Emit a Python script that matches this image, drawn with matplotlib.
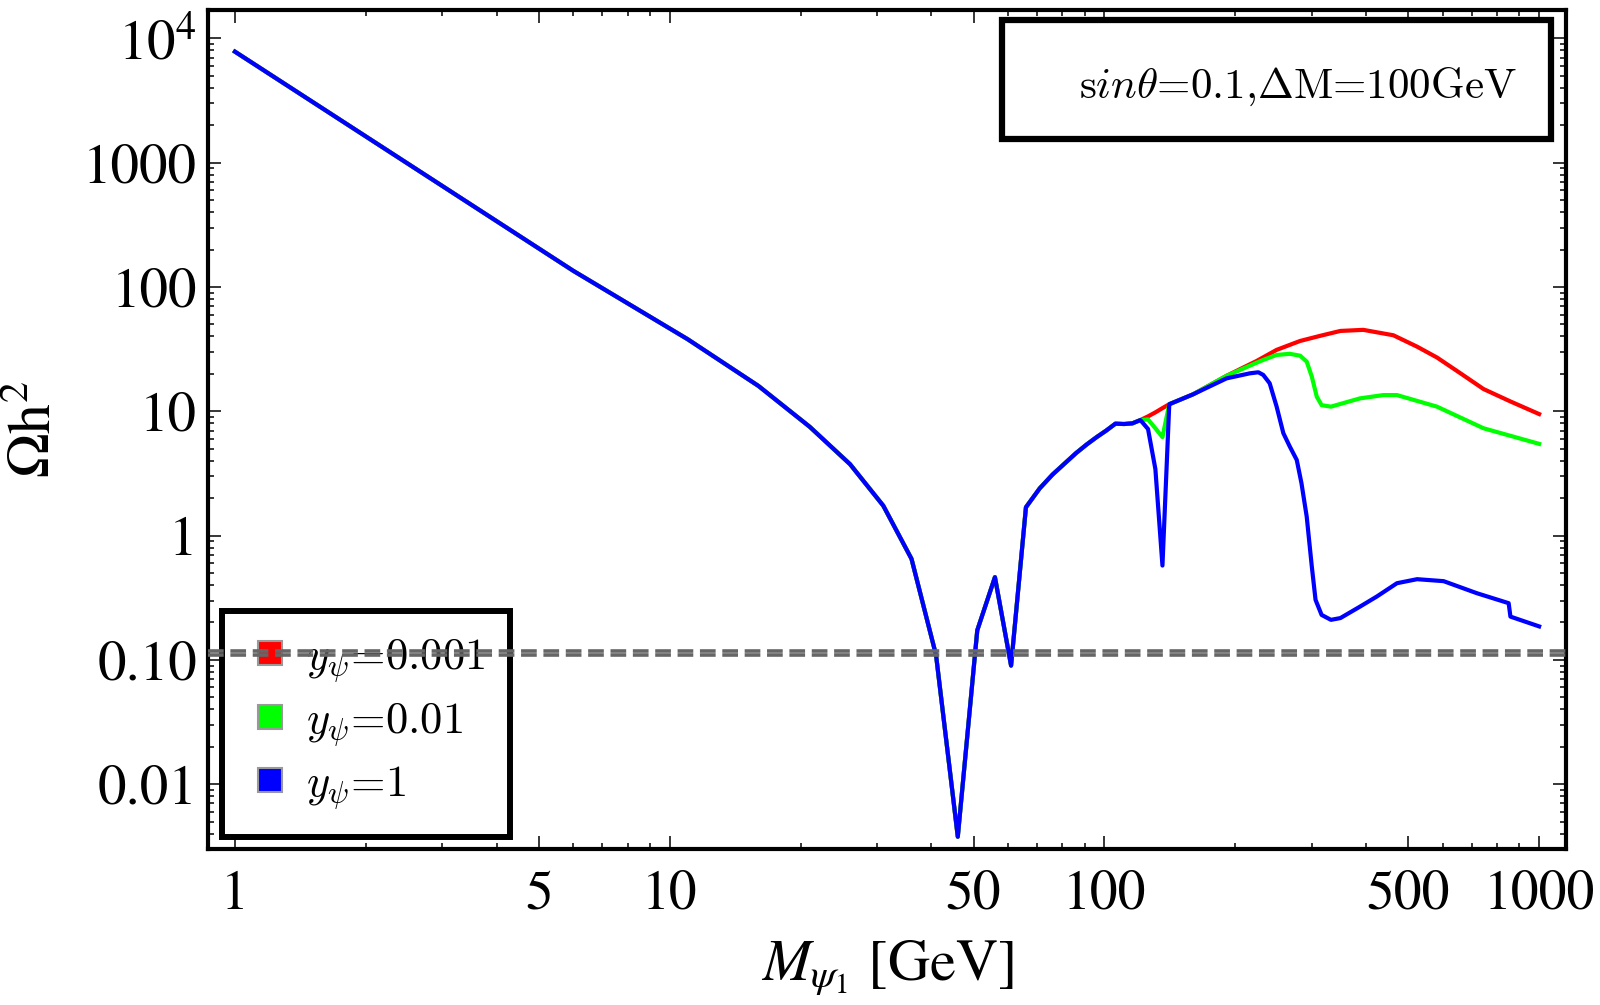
import matplotlib
matplotlib.use("Agg")
import matplotlib.pyplot as plt
import numpy as np
from matplotlib.lines import Line2D
from matplotlib.patches import Rectangle
from matplotlib.font_manager import FontProperties
from matplotlib.ticker import FixedLocator, FixedFormatter, LogLocator, NullFormatter

plt.rcParams['font.family'] = 'STIXGeneral'
plt.rcParams['mathtext.fontset'] = 'stix'
plt.rcParams['lines.scale_dashes'] = False

# shared part of all three curves (M in GeV, relic density)
m_low = [1, 6, 11, 16, 21, 26, 31, 36, 41, 46, 51, 56, 61, 66, 71, 76, 81, 86,
         91, 96, 101, 106, 111, 116, 121]
omega_low = [7820, 135, 38, 16, 7.5, 3.75, 1.74, 0.65, 0.109, 0.00378, 0.173,
             0.463, 0.090, 1.69, 2.4, 3.1, 3.8, 4.6, 5.4, 6.2, 7.0, 7.95, 7.9,
             8.0, 8.5]

# y_psi = 0.001
m_red = [126, 131, 136, 141, 160, 191, 224, 249, 282, 313, 349, 394, 462, 524,
         582, 658, 745, 859, 1000]
omega_red = [9.1, 9.8, 10.6, 11.4, 13.7, 19.3, 25.4, 31.2, 36.8, 40.4, 44.3,
             45.2, 40.9, 33.1, 27.1, 20.3, 15.1, 12.0, 9.5]

# y_psi = 0.01
m_green = [126, 131, 136, 141, 160, 191, 224, 232, 249, 267, 282, 292, 300,
           308, 316, 332, 387, 438, 471, 582, 745, 1000]
omega_green = [8.6, 7.3, 6.2, 11.4, 13.7, 19.3, 24.6, 25.9, 28.4, 29.0, 28.0,
               25.1, 19.0, 13.1, 11.2, 10.9, 12.7, 13.5, 13.5, 10.9, 7.3, 5.47]

# y_psi = 1
m_blue = [126, 131, 136, 141, 160, 191, 216, 226, 232, 240, 249, 258, 267, 277,
          284, 292, 300, 306, 316, 332, 349, 387, 423, 471, 524, 603, 719, 851,
          859, 1000]
omega_blue = [7.2, 3.43, 0.574, 11.4, 13.7, 18.4, 20.2, 20.6, 19.6, 16.8, 10.9,
              6.67, 5.2, 4.06, 2.64, 1.42, 0.563, 0.304, 0.230, 0.21, 0.217,
              0.268, 0.323, 0.414, 0.446, 0.43, 0.344, 0.286, 0.223, 0.186]

relic_band = [0.1093, 0.1183]

labels = [r'$y_\psi$=0.001', r'$y_\psi$=0.01', r'$y_\psi$=1']
colors = ['#ff0000', '#00ff00', '#0000ff']

xtick_vals = [1, 5, 10, 50, 100, 500, 1000]
xtick_labels = ['1', '5', '10', '50', '100', '500', '1000']
ytick_vals = [0.01, 0.1, 1, 10, 100, 1000, 1e4]
ytick_labels = ['0.01', '0.10', '1', '10', '100', '1000', r'$10^4$']

fig = plt.figure(figsize=(16, 10.05), dpi=100)
ax = fig.add_axes([0.13, 0.1552, 0.84875, 0.8348])

series = [(m_red, omega_red), (m_green, omega_green), (m_blue, omega_blue)]
for (m, om), c in zip(series, colors):
    ax.plot(m_low + m, omega_low + om, color=c, lw=3.0, solid_joinstyle='round')

for v in relic_band:
    ax.axhline(v, color='#666666', lw=2.6, dashes=(11.3, 4.8), zorder=3)

ax.set_xscale('log')
ax.set_yscale('log')
ax.set_xlim(0.867, 1153)
ax.set_ylim(0.00301, 16900)

ax.xaxis.set_major_locator(FixedLocator(xtick_vals))
ax.xaxis.set_major_formatter(FixedFormatter(xtick_labels))
xminor = [d * k for d in [1, 10, 100] for k in [2, 3, 4, 6, 7, 8, 9]]
ax.xaxis.set_minor_locator(FixedLocator(xminor))
ax.xaxis.set_minor_formatter(NullFormatter())
ax.yaxis.set_major_locator(FixedLocator(ytick_vals))
ax.yaxis.set_major_formatter(FixedFormatter(ytick_labels))
ax.yaxis.set_minor_locator(LogLocator(base=10, subs=np.arange(2, 10), numticks=20))
ax.yaxis.set_minor_formatter(NullFormatter())

ax.tick_params(which='both', direction='in', top=True, right=True, width=1.1)
ax.tick_params(which='major', length=9.4)
ax.tick_params(which='minor', length=4.3)
ax.tick_params(axis='x', which='major', labelsize=40, pad=15)
ax.tick_params(axis='y', which='major', labelsize=41, pad=8)
for s in ax.spines.values():
    s.set_linewidth(3)

ax.set_xlabel(r'$M_{\psi_1}$ [GeV]', fontsize=42, labelpad=13)
ax.set_ylabel(r'$\Omega\mathrm{h}^2$', fontsize=43, labelpad=14)

cm_font = FontProperties(family='cmr10', size=32, math_fontfamily='cm')
handles = [Line2D([], [], ls='none', marker='s', ms=17, mfc=c, mec='#999999', mew=1.5)
           for c in colors]
leg = ax.legend(handles, labels, loc='lower left', bbox_to_anchor=(0.0103, 0.0143),
                borderaxespad=0, prop=cm_font, frameon=True, fancybox=False,
                edgecolor='black', framealpha=1, handlelength=1.0,
                handletextpad=0.3, borderpad=0.58, labelspacing=0.37)
leg.get_frame().set_linewidth(4.3)
leg.set_zorder(1.5)

ax.add_patch(Rectangle((0.585, 0.846), 0.404, 0.142, transform=ax.transAxes,
                       fc='white', ec='black', lw=4.5, zorder=5))
ax.text(0.964, 0.908, r's$in\theta$=0.1,$\Delta$M=100GeV', transform=ax.transAxes,
        ha='right', va='center', fontsize=31, family='cmr10', math_fontfamily='cm',
        zorder=6)

fig.savefig('out.png', dpi=100)
